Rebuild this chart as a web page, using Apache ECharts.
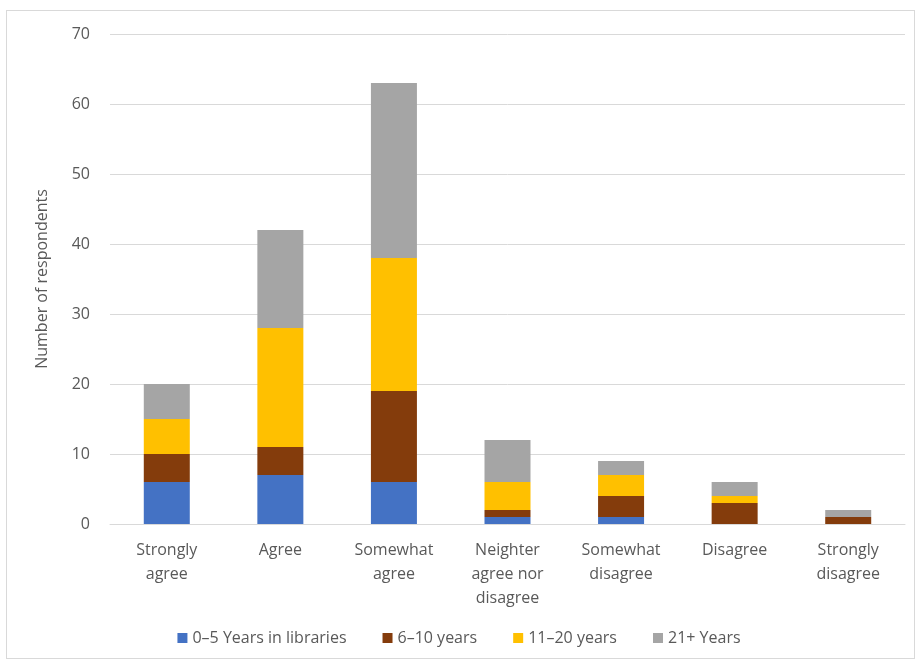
<!doctype html>
<html><head><meta charset="utf-8" />
<style>
html,body{margin:0;padding:0;width:918px;height:667px;background:#fff}
#frame{position:absolute;left:6px;top:10px;width:909px;height:649px;border:1px solid #d9d9d9;box-sizing:border-box}
#app{position:absolute;left:0;top:0;width:918px;height:667px}
</style>
</head><body><div id="frame"></div><div id="app"></div>
<script src="https://cdn.jsdelivr.net/npm/echarts@6.0.0/dist/echarts.min.js"></script>
<script>
const categories = ['Strongly\nagree', 'Agree', 'Somewhat\nagree', 'Neighter\nagree nor\ndisagree', 'Somewhat\ndisagree', 'Disagree', 'Strongly\ndisagree'];
const years0to5 = [6, 7, 6, 1, 1, 0, 0];
const years6to10 = [4, 4, 13, 1, 3, 3, 1];
const years11to20 = [5, 17, 19, 4, 3, 1, 0];
const years21plus = [5, 14, 25, 6, 2, 2, 1];

const font = 'Open Sans';
const chart = echarts.init(document.getElementById('app'));
function bar(name, data, color) {
  return { name: name, type: 'bar', stack: 'total', data: data, barWidth: 46, itemStyle: { color: color } };
}
chart.setOption({
  animation: false,
  textStyle: { fontFamily: font },
  grid: { left: 110, right: 13, top: 34, bottom: 143 },
  legend: {
    bottom: 16, left: 'center', itemWidth: 10, itemHeight: 10, itemGap: 36, icon: 'rect',
    textStyle: { color: '#595959', fontSize: 16, fontFamily: font }
  },
  xAxis: {
    type: 'category', data: categories,
    axisLine: { lineStyle: { color: '#d9d9d9' } },
    axisTick: { show: false },
    axisLabel: { color: '#595959', fontSize: 16, lineHeight: 24, margin: 14, interval: 0 }
  },
  yAxis: {
    type: 'value', min: 0, max: 70, interval: 10,
    name: 'Number of respondents', nameLocation: 'middle', nameGap: 60,
    nameTextStyle: { color: '#595959', fontSize: 16 },
    axisLine: { show: false }, axisTick: { show: false },
    axisLabel: { color: '#595959', fontSize: 16, margin: 20 },
    splitLine: { lineStyle: { color: '#d9d9d9' } }
  },
  series: [
    bar('0–5 Years in libraries', years0to5, '#4472c4'),
    bar('6–10 years', years6to10, '#843c0c'),
    bar('11–20 years', years11to20, '#ffc000'),
    bar('21+ Years', years21plus, '#a5a5a5')
  ]
});
</script></body></html>
